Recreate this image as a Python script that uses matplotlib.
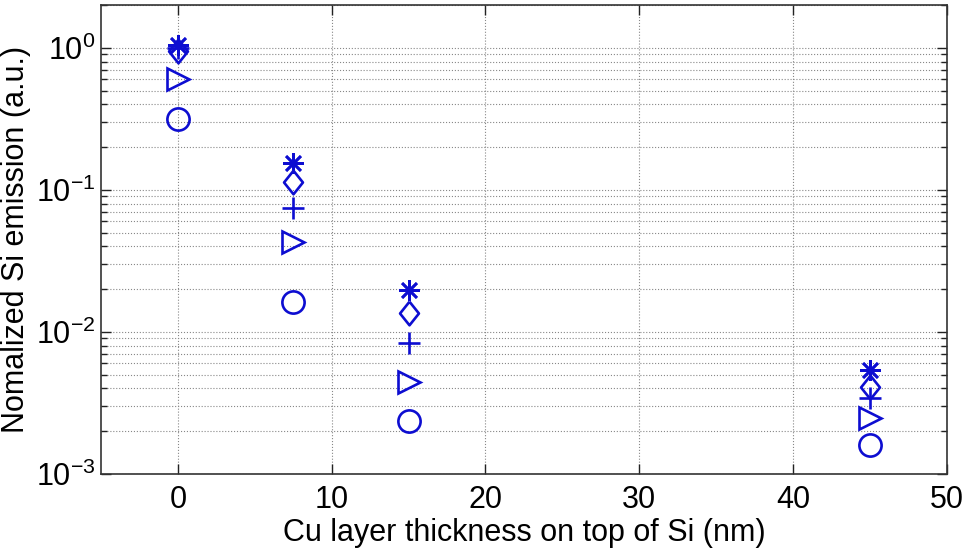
import matplotlib
matplotlib.use("Agg")
import matplotlib.pyplot as plt
from matplotlib.ticker import LogLocator, NullFormatter

# Data
thickness = [0, 7.5, 15, 45]
series_star = [1.05, 0.155, 0.0196, 0.0054]
series_diamond = [0.95, 0.114, 0.0135, 0.0041]
series_plus = [1.0, 0.074, 0.0083, 0.0034]
series_triangle = [0.605, 0.0426, 0.00442, 0.00247]
series_circle = [0.316, 0.0162, 0.00235, 0.0016]
x_ticks = [0, 10, 20, 30, 40, 50]

plt.rcParams['font.family'] = ['Liberation Sans', 'DejaVu Sans']
plt.rcParams['mathtext.default'] = 'regular'

fig = plt.figure(figsize=(9.66, 5.54), dpi=100)
ax = fig.add_axes([0.1046, 0.1444, 0.8755, 0.8466])

blue = (0.05, 0.05, 0.82)
diamond_marker = [(0, 1), (0.8, 0), (0, -1), (-0.8, 0), (0, 1)]
common = dict(linestyle='none', color=blue, markerfacecolor='none',
              markeredgecolor=blue, markeredgewidth=1.9)

ax.plot(thickness, series_star, marker=(8, 2, 0), markersize=15, **common)
ax.plot(thickness, series_diamond, marker=diamond_marker, markersize=17, **common)
ax.plot(thickness, series_plus, marker='+', markersize=16, **common)
ax.plot(thickness, series_triangle, marker='>', markersize=16, **common)
ax.plot(thickness, series_circle, marker='o', markersize=16, **common)

ax.set_yscale('log')
ax.set_xlim(-5, 50)
ax.set_ylim(1e-3, 2)
ax.set_xticks(x_ticks)
ax.yaxis.set_major_locator(LogLocator(base=10, numticks=10))
ax.yaxis.set_minor_locator(LogLocator(base=10, subs=range(2, 10), numticks=50))
ax.yaxis.set_minor_formatter(NullFormatter())

ax.grid(True, which='major', axis='both', linestyle=':', color='#888888', linewidth=0.8)
ax.grid(True, which='minor', axis='y', linestyle=':', color='#888888', linewidth=0.8)
ax.set_axisbelow(True)

ax.tick_params(which='both', direction='in', top=True, right=True, labelsize=22,
               colors='#222222', labelcolor='black')
ax.tick_params(which='major', length=7, width=1.0)
ax.tick_params(axis='x', which='major', pad=8)
ax.tick_params(axis='y', which='major', pad=4)
ax.tick_params(which='minor', length=4, width=1.0)
for s in ax.spines.values():
    s.set_linewidth(1.2)
    s.set_color('#333333')

ax.set_xlabel('Cu layer thickness on top of Si (nm)', fontsize=22, labelpad=2)
ax.set_ylabel('Nomalized Si emission (a.u.)', fontsize=22)
ax.yaxis.set_label_coords(-0.083, 0.5)

fig.savefig('out.png', dpi=100)
